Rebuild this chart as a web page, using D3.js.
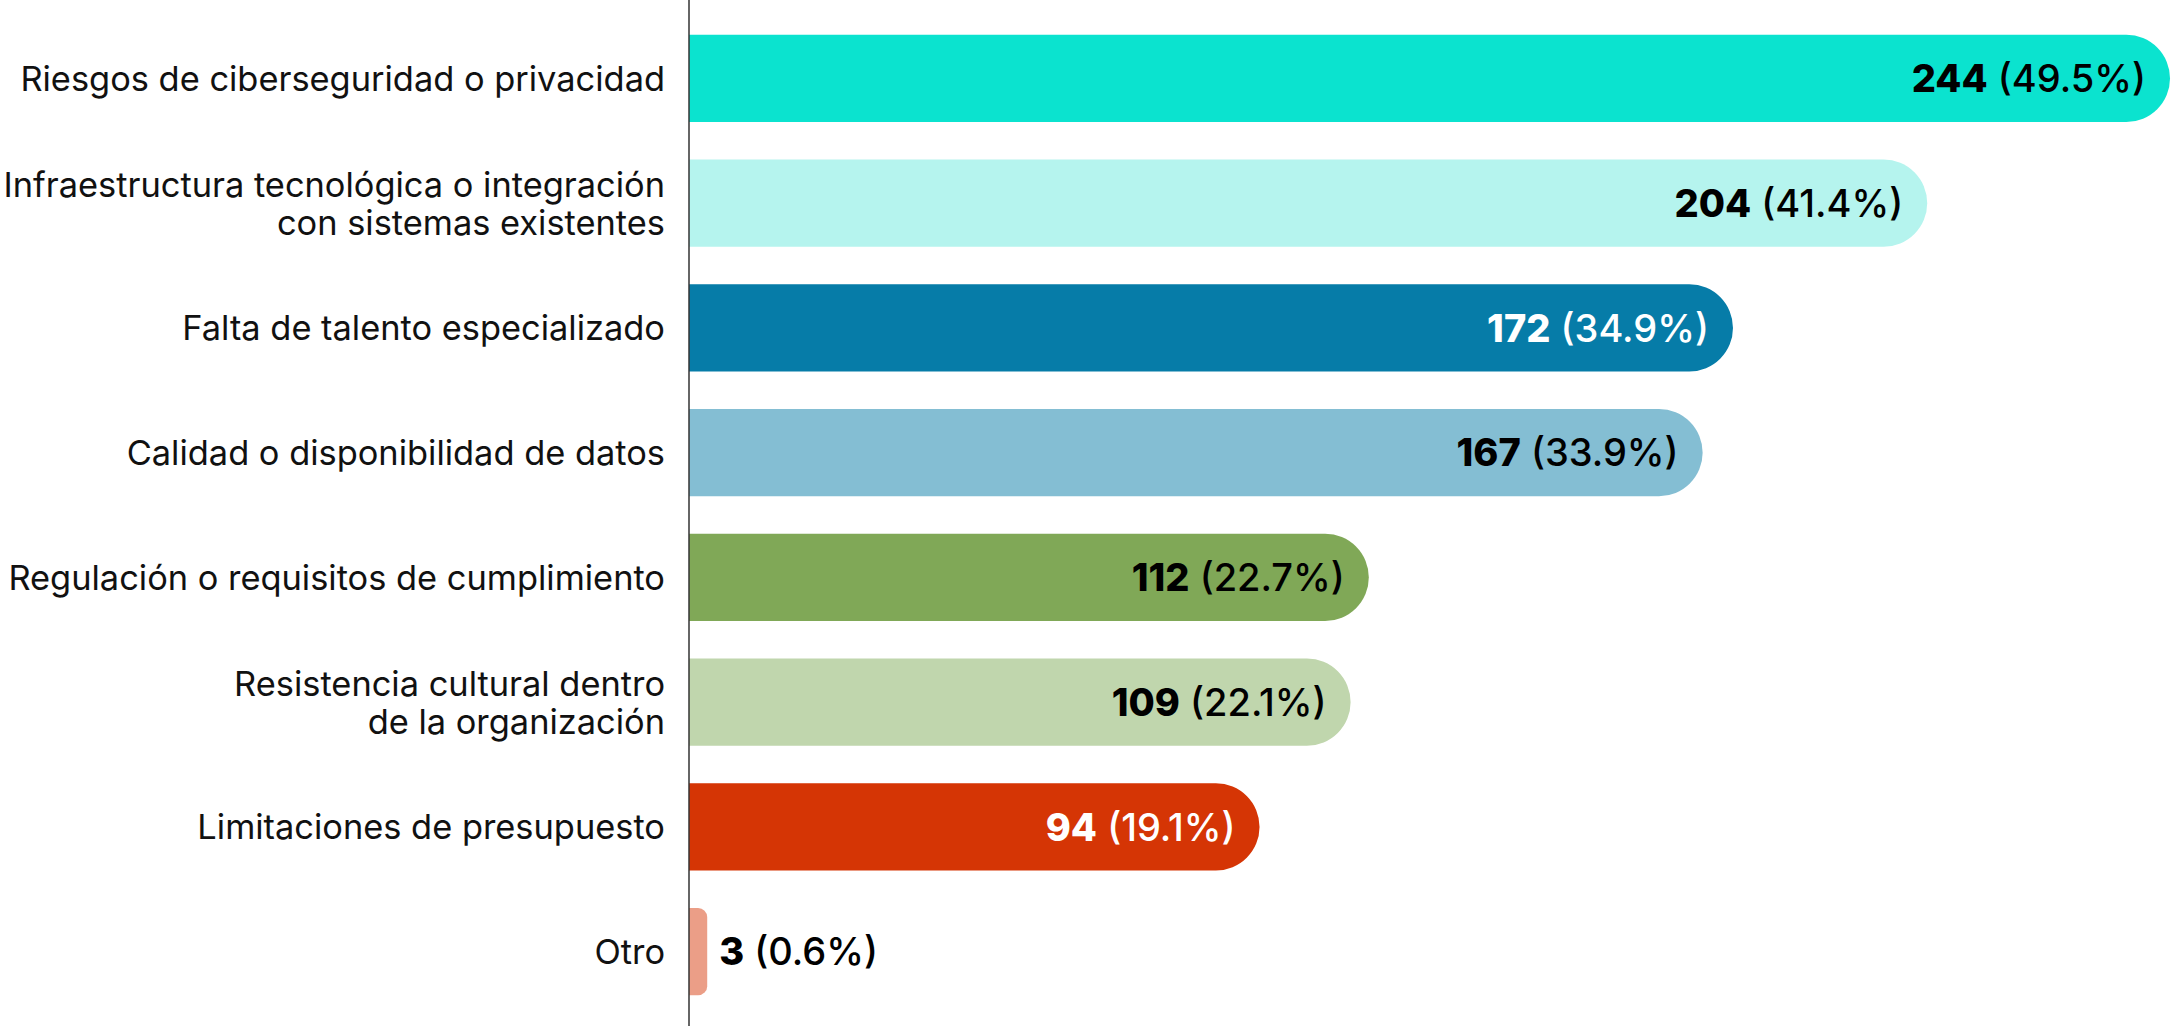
<!DOCTYPE html>
<html>
<head>
<meta charset="utf-8">
<script src="https://cdn.jsdelivr.net/npm/d3@7"></script>
<style>
    body { margin: 0; background: #fff; }
    svg { display: block; }
    text { font-family: Inter, "Noto Sans", sans-serif; }
</style>
</head>
<body>
<svg id="chart"></svg>
<script>
// Categories (each entry = lines of the label)
const categories = [
    ['Riesgos de ciberseguridad o privacidad'],
    ['Infraestructura tecnológica o integración', 'con sistemas existentes'],
    ['Falta de talento especializado'],
    ['Calidad o disponibilidad de datos'],
    ['Regulación o requisitos de cumplimiento'],
    ['Resistencia cultural dentro', 'de la organización'],
    ['Limitaciones de presupuesto'],
    ['Otro']
];
const counts = [244, 204, 172, 167, 112, 109, 94, 3];
const percents = [49.5, 41.4, 34.9, 33.9, 22.7, 22.1, 19.1, 0.6];
const palette = ['#0be3cf', '#b5f4ee', '#067ca8', '#84bed3', '#80a857', '#c0d6ad', '#d53505', '#eb9e87'];

const width = 2173;
const height = 1026;
const axisX = 689;

const data = categories.map((c, i) => ({
    lines: c,
    count: counts[i],
    pct: percents[i],
    key: c.join(' ')
}));

const svg = d3.select('#chart')
    .attr('width', width)
    .attr('height', height)
    .attr('viewBox', [0, 0, width, height]);

// Scales
const x = d3.scaleLinear()
    .domain([0, d3.max(counts)])
    .range([axisX, 2170]);

const y = d3.scaleBand()
    .domain(data.map(d => d.key))
    .range([16, 1014])
    .paddingInner(0.3)
    .paddingOuter(0.15);

const color = d3.scaleOrdinal(data.map(d => d.key), palette);

// Bar shape: square on the left, rounded on the right
function barPath(d) {
    const x0 = x(0), x1 = x(d.count);
    const y0 = y(d.key), h = y.bandwidth();
    const w = x1 - x0;
    const r = Math.min(h / 2, w / 2);
    return `M${x0},${y0}H${x1 - r}A${r},${r} 0 0 1 ${x1},${y0 + r}` +
        `V${y0 + h - r}A${r},${r} 0 0 1 ${x1 - r},${y0 + h}H${x0}Z`;
}

const groups = svg.selectAll('g.bar')
    .data(data)
    .join('g')
    .attr('class', 'bar');

groups.append('path')
    .attr('d', barPath)
    .attr('fill', d => color(d.key));

// Category labels
const labelSize = 34.4;
const lineGap = 38;
groups.append('text')
    .attr('text-anchor', 'end')
    .attr('font-size', labelSize)
    .attr('fill', '#111')
    .selectAll('tspan')
    .data(d => d.lines.map((l, i) => ({ l, i, n: d.lines.length, d })))
    .join('tspan')
        .attr('x', axisX - 24)
        .attr('y', t => y(t.d.key) + y.bandwidth() / 2 + (t.i - (t.n - 1) / 2) * lineGap)
        .attr('dy', '0.36em')
        .text(t => t.l);

// Value labels: inside the bar when there is room, otherwise outside
groups.each(function(d) {
    const g = d3.select(this);
    const inside = x(d.count) - x(0) > 260;
    const dark = d3.lab(color(d.key)).l < 58;
    const t = g.append('text')
        .attr('x', inside ? x(d.count) - 24 : x(d.count) + 12)
        .attr('y', y(d.key) + y.bandwidth() / 2)
        .attr('dy', '0.36em')
        .attr('text-anchor', inside ? 'end' : 'start')
        .attr('font-size', 38)
        .attr('fill', inside && dark ? '#fff' : '#000');
    t.append('tspan').attr('font-weight', 800).text(d.count);
    t.append('tspan').attr('font-weight', 500).text(` (${d.pct.toFixed(1)}%)`);
});

// Vertical axis line
svg.append('line')
    .attr('x1', axisX).attr('x2', axisX)
    .attr('y1', 0).attr('y2', height)
    .attr('stroke', '#333')
    .attr('stroke-width', 1.5);
</script>
</body>
</html>
